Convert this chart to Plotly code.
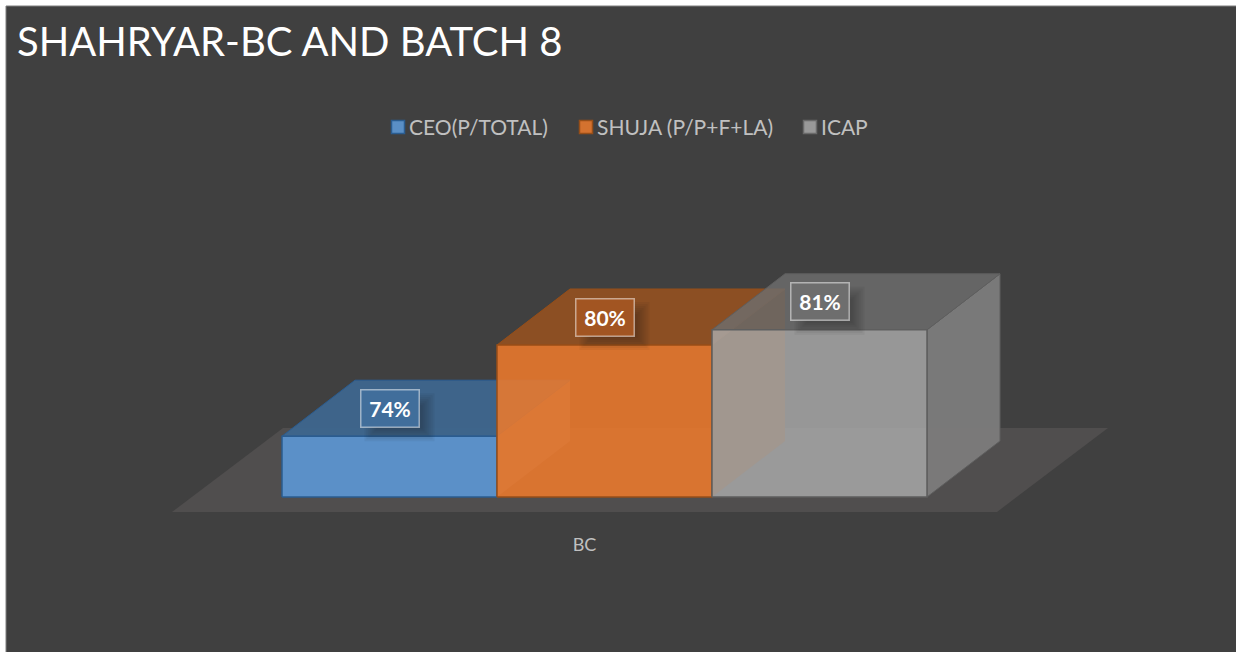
import plotly.graph_objects as go

# --- data ---
title = "SHAHRYAR-BC AND BATCH 8"
categories = ["BC"]
series_names = ["CEO(P/TOTAL)", "SHUJA (P/P+F+LA)", "ICAP"]
values = [74, 80, 81]
value_labels = ["74%", "80%", "81%"]
base_value = 70

# --- projection styling ---
W, H = 1236, 652
PX_PER_UNIT = 215.0
PX_PER_PCT = 15.2
ORIGIN_X, ORIGIN_Y = 282.0, 497.0
DX = 73 / PX_PER_UNIT
DY = 56 / PX_PER_PCT
FLOOR_DX = 111 / PX_PER_UNIT
FLOOR_DY = 84 / PX_PER_PCT
FLOOR_FRONT = base_value - 15 / PX_PER_PCT
FLOOR_L = -110 / PX_PER_UNIT
FLOOR_R = 715 / PX_PER_UNIT

xrange_ = [-ORIGIN_X / PX_PER_UNIT, (W - ORIGIN_X) / PX_PER_UNIT]
yrange_ = [base_value - (H - ORIGIN_Y) / PX_PER_PCT, base_value + ORIGIN_Y / PX_PER_PCT]

styles = [
    dict(front="rgba(92,147,205,0.96)", top="rgba(62,101,140,0.97)", side="rgba(105,107,120,0.95)",
         inner="rgba(110,165,220,0.10)", line="#2a5c90", label="#416e9b"),
    dict(front="rgba(238,122,44,0.85)", top="rgba(142,79,34,0.97)", side="rgba(118,62,16,0.92)",
         inner="rgba(230,125,50,0.10)", line="#964e18", label="#a25522"),
    dict(front="rgba(171,171,171,0.80)", top="rgba(109,109,109,0.80)", side="rgba(122,122,122,0.98)",
         inner="rgba(165,165,165,0.08)", line="#5e5e5e", label="#6e6e6e"),
]


def poly(fig, xs, ys, fill, line=None, width=1.5):
    fig.add_trace(go.Scatter(
        x=xs + xs[:1], y=ys + ys[:1], mode="lines", fill="toself", fillcolor=fill,
        line=dict(color=line or "rgba(0,0,0,0)", width=width if line else 0),
        hoverinfo="skip", showlegend=False,
    ))


fig = go.Figure()

# floor
poly(fig,
     [FLOOR_L, FLOOR_R, FLOOR_R + FLOOR_DX, FLOOR_L + FLOOR_DX],
     [FLOOR_FRONT, FLOOR_FRONT, FLOOR_FRONT + FLOOR_DY, FLOOR_FRONT + FLOOR_DY],
     "#504e4e")

# bars, back to front
for i, (v, st) in enumerate(zip(values, styles)):
    x0, x1, b = float(i), float(i + 1), base_value
    # bottom, back wall, left wall
    poly(fig, [x0, x1, x1 + DX, x0 + DX], [b, b, b + DY, b + DY], st["inner"])
    poly(fig, [x0 + DX, x1 + DX, x1 + DX, x0 + DX], [b + DY, b + DY, v + DY, v + DY], st["inner"])
    poly(fig, [x0, x0 + DX, x0 + DX, x0], [b, b + DY, v + DY, v], st["inner"])
    # right side, top, front
    poly(fig, [x1, x1 + DX, x1 + DX, x1], [b, b + DY, v + DY, v], st["side"], st["line"] if i == 2 else None, 1)
    poly(fig, [x0, x1, x1 + DX, x0 + DX], [v, v, v + DY, v + DY], st["top"], st["line"], 1)
    poly(fig, [x0, x1, x1, x0], [b, b, v, v], st["front"], st["line"], 1.5)

annotations = []
for i, (v, lab, st) in enumerate(zip(values, value_labels, styles)):
    cx = i + 0.5
    cy = v + DY / 2
    # soft shadow of the data label
    for grow in (6, 4, 2, 0, -2, -4, -6):
        hw = (29 + grow) / PX_PER_UNIT
        hh = (18 + grow) / PX_PER_PCT
        ox, oy = 10 / PX_PER_UNIT, -9 / PX_PER_PCT
        poly(fig,
             [cx + ox - hw, cx + ox + hw, cx + ox + hw, cx + ox - hw],
             [cy + oy - hh, cy + oy - hh, cy + oy + hh, cy + oy + hh],
             "rgba(20,20,20,0.05)")
    annotations.append(dict(
        x=cx, y=cy, xref="x", yref="y", text=f"<b>{lab}</b>", showarrow=False,
        font=dict(family="Lato, Open Sans, sans-serif", size=21, color="white"),
        bgcolor=st["label"], bordercolor="rgba(255,255,255,0.5)", borderwidth=1.5,
        width=55, height=34, align="center", valign="middle",
    ))

# legend (keys and labels)
legend_x = [391, 579, 803]
legend_colors = ["#5a8fc6", "#d4722f", "#999999"]
legend_lines = ["#2a5c90", "#964e18", "#6a6a6a"]
shapes = [dict(type="rect", xref="paper", yref="paper", layer="below",
               x0=6 / W, x1=1, y0=0, y1=1 - 6 / H,
               fillcolor="#404040", line=dict(width=0)),
          dict(type="line", xref="paper", yref="paper", layer="below",
               x0=6 / W, x1=1, y0=1 - 6 / H, y1=1 - 6 / H, line=dict(color="#7f7f7f", width=1)),
          dict(type="line", xref="paper", yref="paper", layer="below",
               x0=6 / W, x1=6 / W, y0=0, y1=1 - 6 / H, line=dict(color="#7f7f7f", width=1))]
for name, lx, c, lc in zip(series_names, legend_x, legend_colors, legend_lines):
    shapes.append(dict(type="rect", xref="paper", yref="paper",
                       x0=(lx + 0.5) / W, x1=(lx + 13.5) / W,
                       y0=1 - 133.5 / H, y1=1 - 120.5 / H,
                       fillcolor=c, line=dict(color=lc, width=1.5)))
    annotations.append(dict(
        xref="paper", yref="paper", x=(lx + 16) / W, y=1 - 126.5 / H, xanchor="left", yanchor="middle",
        text=name, showarrow=False, font=dict(family="Lato, sans-serif", size=21, color="#c0c0c0"),
    ))

fig.update_layout(
    width=W, height=H, margin=dict(l=0, r=0, t=0, b=0, pad=0),
    paper_bgcolor="white", plot_bgcolor="rgba(0,0,0,0)",
    showlegend=False, shapes=shapes, annotations=annotations,
    title=dict(text=title, x=17 / W, xanchor="left", y=1 - 42 / H, yanchor="middle",
               xref="paper", yref="paper",
               font=dict(family="Lato, sans-serif", size=40, color="white")),
    xaxis=dict(range=xrange_, showgrid=False, zeroline=False, showline=False, ticks="",
               tickmode="array", tickvals=[(FLOOR_L + FLOOR_R) / 2], ticktext=categories,
               tickfont=dict(family="Lato, sans-serif", size=18, color="#c0c0c0"),
               anchor="free", position=1 - 532 / H),
    yaxis=dict(range=yrange_, visible=False),
)

fig.write_html(
    "out.html",
    config=dict(displayModeBar=False),
    post_script="document.body.style.margin='0';document.documentElement.style.overflow='hidden';",
)
